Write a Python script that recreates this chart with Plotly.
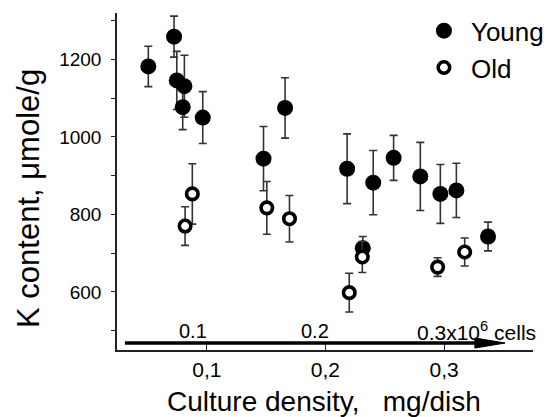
import plotly.graph_objects as go

# ---- data ----
young_x = [0.0507, 0.0724, 0.0747, 0.0811, 0.0797, 0.0966, 0.1478, 0.1660,
           0.2183, 0.2315, 0.2403, 0.2575, 0.2800, 0.2969, 0.3104, 0.3371]
young_y = [1182, 1259, 1146, 1131, 1077, 1050, 944, 1075,
           918, 713, 882, 946, 898, 853, 862, 743]
young_err = [52, 53, 75, 80, 58, 67, 83, 78,
             90, 30, 83, 58, 88, 76, 70, 37]

old_x = [0.0817, 0.0878, 0.1506, 0.1697, 0.2201, 0.2311, 0.2946, 0.3174]
old_y = [770, 853, 817, 789, 598, 690, 664, 703]
old_err = [50, 78, 68, 60, 50, 40, 24, 36]

cell_label_x = [0.0884, 0.1916]
cell_labels = ["0.1", "0.2"]
cell_last_x = 0.2755
cell_last_label = "0.3x10<sup>6</sup> cells"

FONT = "Liberation Sans, Arial, sans-serif"
ERRC = "#333333"

fig = go.Figure()
fig.add_trace(go.Scatter(
    x=young_x, y=young_y, mode="markers", name="Young",
    marker=dict(symbol="circle", size=16, color="black", line=dict(width=0)),
    error_y=dict(type="data", array=young_err, visible=True, color=ERRC,
                 thickness=1.6, width=4),
))
fig.add_trace(go.Scatter(
    x=old_x, y=old_y, mode="markers", name="Old",
    marker=dict(symbol="circle", size=11.5, color="white",
                line=dict(width=3.6, color="black")),
    error_y=dict(type="data", array=old_err, visible=True, color=ERRC,
                 thickness=1.6, width=4),
))

# scale arrow (cells) drawn just above the x axis
arrow_y = 468
arrow_x0, arrow_x1, head_x0, head_half = 0.031, 0.3515, 0.326, 13
fig.add_shape(type="line", xref="x", yref="y", x0=arrow_x0, x1=head_x0 + 0.005,
              y0=arrow_y, y1=arrow_y, line=dict(color="black", width=3.5))
fig.add_shape(type="path", xref="x", yref="y",
              path=f"M {head_x0} {arrow_y - head_half} L {arrow_x1} {arrow_y} "
                   f"L {head_x0} {arrow_y + head_half} Z",
              fillcolor="black", line=dict(color="black", width=1))

for cx, lab in zip(cell_label_x, cell_labels):
    fig.add_annotation(x=cx, y=499, xref="x", yref="y", text=lab, showarrow=False,
                       font=dict(family=FONT, size=20, color="black"),
                       xanchor="center", yanchor="middle")
fig.add_annotation(x=cell_last_x, y=499, xref="x", yref="y", text=cell_last_label,
                   showarrow=False, font=dict(family=FONT, size=21, color="black"),
                   xanchor="left", yanchor="middle")

# axis titles as annotations for exact placement
fig.add_annotation(x=-0.214, y=0.451, xref="paper", yref="paper",
                   text="K content, \u03bcmole/g", textangle=-90, showarrow=False,
                   font=dict(family=FONT, size=31, color="black"),
                   xanchor="center", yanchor="middle")
fig.add_annotation(x=0.4976, y=-0.154, xref="paper", yref="paper",
                   text="Culture density,\u00a0\u00a0 mg/dish", showarrow=False,
                   font=dict(family=FONT, size=28, color="black"),
                   xanchor="center", yanchor="middle")

fig.update_xaxes(range=[0.0243, 0.375], tick0=0, dtick=0.1, ticks="inside",
                 ticklen=7, tickwidth=1.3, tickcolor="#222",
                 showline=True, linecolor="#222", linewidth=1.5,
                 showgrid=False, zeroline=False,
                 tickfont=dict(family=FONT, size=21, color="black"))
fig.update_yaxes(range=[450, 1320], tick0=0, dtick=200, ticks="outside",
                 ticklen=4, tickwidth=1.3, tickcolor="#222",
                 minor=dict(dtick=100, ticks="outside", ticklen=4, tickcolor="#222",
                            tickwidth=1.3),
                 showline=True, linecolor="#222", linewidth=1.5,
                 showgrid=False, zeroline=False, ticklabelstandoff=6,
                 tickfont=dict(family=FONT, size=19, color="black"))

fig.update_layout(
    width=549, height=417,
    margin=dict(l=117, r=16, t=13, b=67, autoexpand=False),
    plot_bgcolor="white", paper_bgcolor="white",
    separators=",.",
    font=dict(family=FONT, color="black"),
    showlegend=True,
    legend=dict(x=0.721, y=1.017, xanchor="left", yanchor="top",
                font=dict(family=FONT, size=26, color="black"),
                itemwidth=44,
                bgcolor="rgba(0,0,0,0)", borderwidth=0, tracegroupgap=0),
)

fig.write_html("out.html")
